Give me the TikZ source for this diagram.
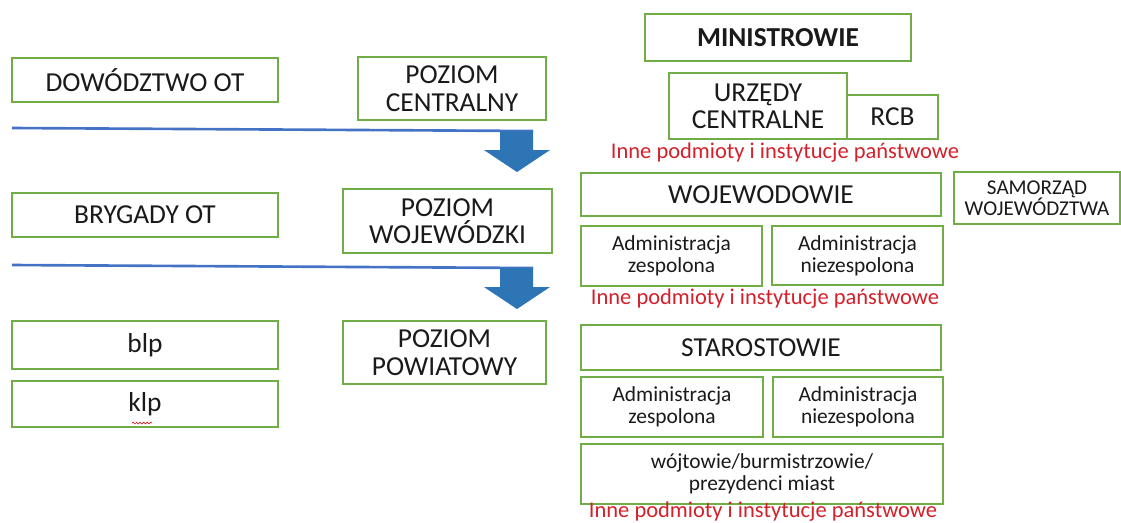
\documentclass[tikz,border=0pt]{standalone}
\usepackage{fontspec}
\setmainfont{Carlito}
\usepackage{tikz}
\usetikzlibrary{decorations.pathmorphing}
\definecolor{Leaf}{HTML}{70AD47}
\definecolor{Stream}{HTML}{4472C4}
\definecolor{Drop}{HTML}{2E75B6}
\definecolor{Alert}{HTML}{D4202A}
\definecolor{Ink}{HTML}{1A1A1A}
\tikzset{
  box/.style={draw=Leaf,line width=1.1pt,fill=white,align=center,text=Ink,inner sep=1pt,
    font=\fontsize{15.6}{15.6}\selectfont},
  small/.style={font=\fontsize{12.2}{12.6}\selectfont},
  tiny/.style={font=\fontsize{12}{12}\selectfont},
  sz/.style 2 args={minimum width=#1*0.02cm,minimum height=#2*0.02cm},
  note/.style={text=Alert,font=\fontsize{12.8}{12.8}\selectfont,inner sep=0pt},
  flow/.style={draw=Stream,line width=1.5pt},
}
\begin{document}
\begin{tikzpicture}[x=0.02cm,y=-0.02cm]
  \useasboundingbox (0,0) rectangle (1121,522);
  % left column
  \node[box,sz={266}{44}] (dow) at (145,80) {DOWÓDZTWO OT};
  \node[box,sz={266}{44}] (bryg) at (145,215) {BRYGADY OT};
  \node[box,sz={266}{48}] (blp) at (145,345) {blp};
  \node[box,sz={266}{46}] (klp) at (145,404) {klp};
  \draw[Alert,line width=0.4pt,decorate,decoration={snake,amplitude=0.5pt,segment length=2pt}]
    (132,423) -- (152,423);
  % levels
  \node[box,sz={188}{63}] (pcen) at (452,88.5) {POZIOM\\CENTRALNY};
  \node[box,sz={209}{64}] (pwoj) at (447.5,221) {POZIOM\\WOJEWÓDZKI};
  \node[box,sz={203}{63}] (ppow) at (444.5,352.5) {POZIOM\\POWIATOWY};
  % flow lines
  \coordinate (f1a) at (12,128);
  \coordinate (f1b) at (533,131);
  \coordinate (f2a) at (12,265);
  \coordinate (f2b) at (533,268);
  \draw[flow] (f1a) -- (f1b);
  \draw[flow] (f2a) -- (f2b);
  \foreach \c in {f1b,f2b}
    \fill[Drop] (\c) -- ++(0,19) -- ++(17,0) -- ++(-33,22) -- ++(-33,-22) -- ++(16,0) -- ++(0,-19) -- cycle;
  % central
  \node[box,sz={266}{47},font=\fontsize{15.6}{15.6}\selectfont\bfseries] (min) at (778,37.5) {MINISTROWIE};
  \node[box,sz={91}{44}] (rcb) at (892.5,117) {RCB};
  \node[box,sz={178}{66}] (urz) at (758,106) {URZĘDY\\CENTRALNE};
  \node[note] (inne1) at (785,153) {Inne podmioty i instytucje państwowe};
  % voivodeship
  \node[box,sz={360}{43}] (woj) at (761,194.5) {WOJEWODOWIE};
  \node[box,tiny,sz={166}{52}] (sam) at (1037,198) {SAMORZĄD\\WOJEWÓDZTWA};
  \node[box,small,sz={181}{60}] (zesp1) at (671.5,256) {Administracja\\zespolona};
  \node[box,small,sz={171}{59}] (nzesp1) at (857.5,255.5) {Administracja\\niezespolona};
  \node[note] (inne2) at (765,299) {Inne podmioty i instytucje państwowe};
  % county
  \node[box,sz={360}{45}] (star) at (761,347.5) {STAROSTOWIE};
  \node[box,small,sz={182}{60}] (zesp2) at (672,407) {Administracja\\zespolona};
  \node[box,small,sz={170}{60}] (nzesp2) at (858,407) {Administracja\\niezespolona};
  \node[box,small,sz={362}{60}] (wojt) at (762,474) {wójtowie/burmistrzowie/\\prezydenci miast};
  \node[note] (inne3) at (763,512) {Inne podmioty i instytucje państwowe};
\end{tikzpicture}
\end{document}
